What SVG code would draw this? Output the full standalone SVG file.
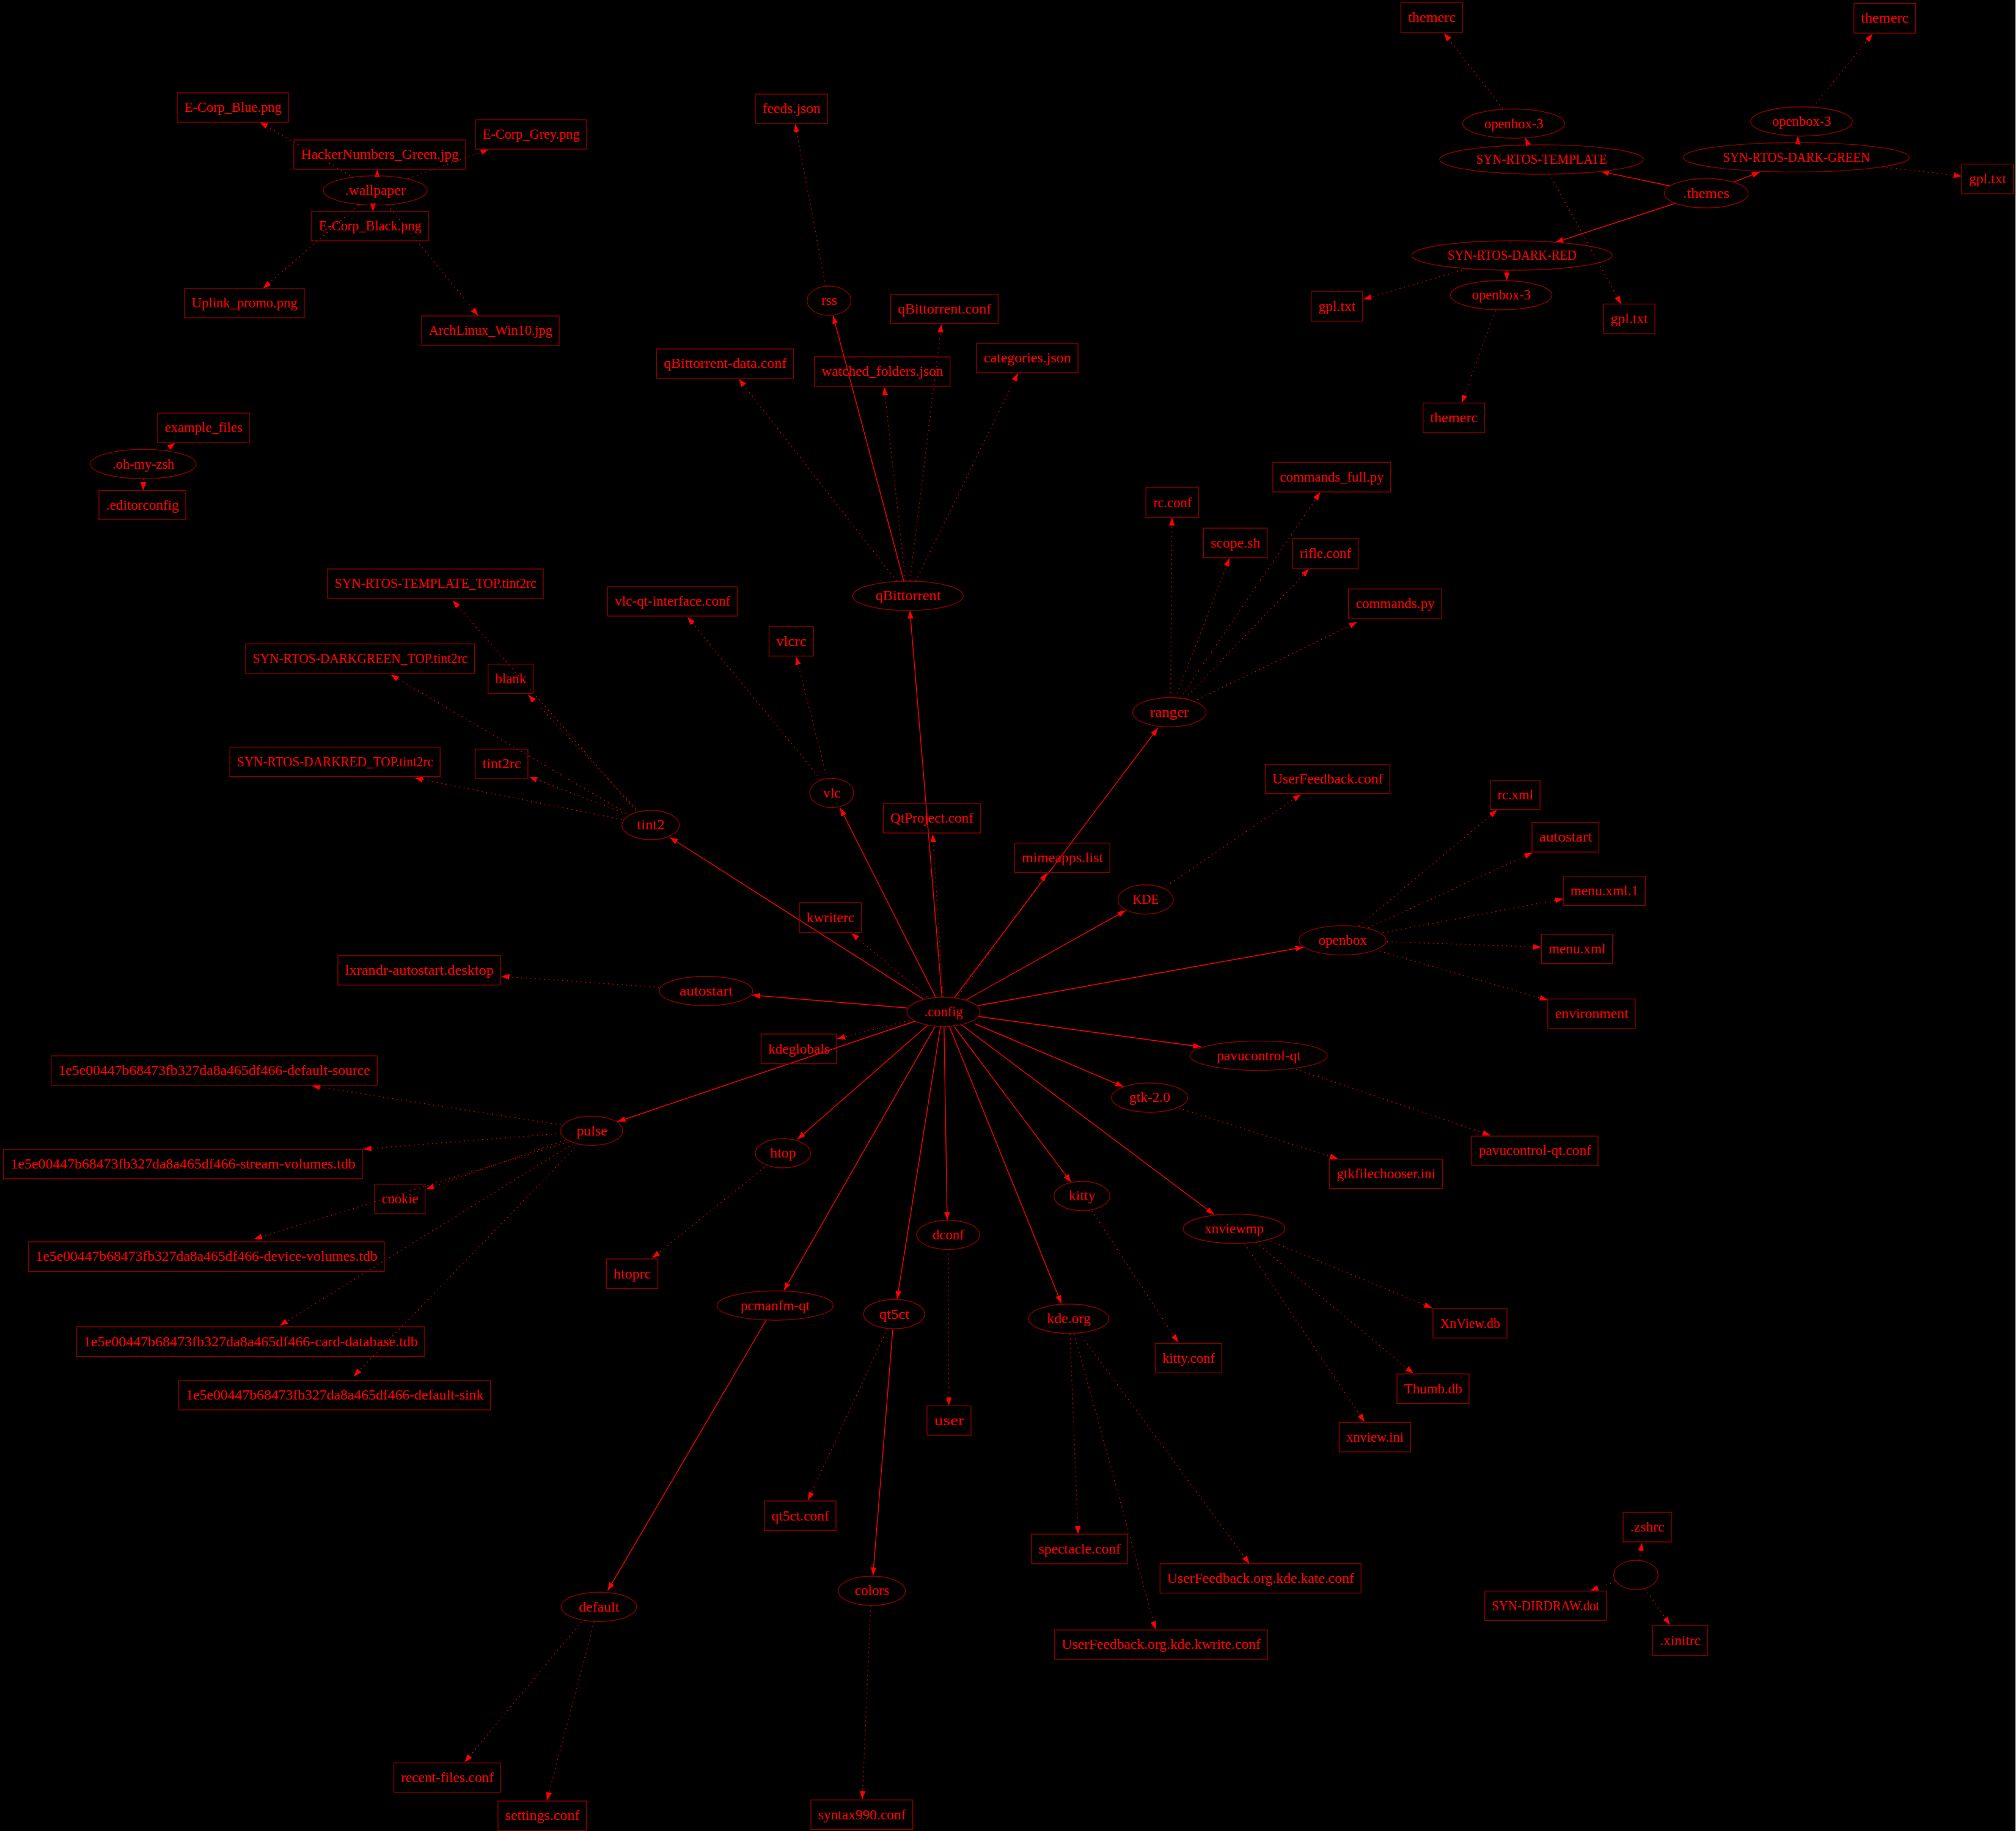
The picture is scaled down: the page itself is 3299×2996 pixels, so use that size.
<svg xmlns="http://www.w3.org/2000/svg" width="3299" height="2996" viewBox="0 0 3299 2996">
<defs>
<style>
.n rect,.n ellipse{fill:none;stroke:#8b0000;stroke-width:1.4}
text{font-family:"Liberation Serif","Times New Roman",serif;font-size:23.5px;fill:#ff0000;text-anchor:middle}
.e path{stroke:#ff0000;stroke-width:1.4;fill:none;marker-end:url(#a)}
.e path.d{stroke-dasharray:1.5,6}
</style>
<marker id="a" markerUnits="userSpaceOnUse" markerWidth="15" markerHeight="11" refX="13.3" refY="4.7" orient="auto"><path d="M0,0 L13.3,4.7 L0,9.4 z" fill="#ff0000"/></marker>
</defs>
<rect x="0" y="0" width="3299" height="2996" fill="#000000"/>
<rect x="3298" y="0" width="1" height="2996" fill="#bfbfbf"/>
<g id="connectors" class="e">
<path class="d" d="M578.8,290.8 L425.1,199.6"/>
<path class="d" d="M617.2,288.5 L617.2,277"/>
<path class="d" d="M668.2,292.1 L799.8,244.3"/>
<path class="d" d="M610.3,335.5 L610.3,346.3"/>
<path class="d" d="M586.7,335.5 L430.4,472"/>
<path class="d" d="M634,335.5 L782.4,516.6"/>
<path class="d" d="M271,736.7 L286.8,724.5"/>
<path class="d" d="M234.5,783.3 L234.5,802.4"/>
<path class="d" d="M1351.2,468.1 L1301.2,202.8"/>
<path d="M1541.6,1632.7 L1489,999"/>
<path d="M1479,951 L1363.3,516.6"/>
<path class="d" d="M1466.9,950.3 L1209.1,620"/>
<path class="d" d="M1481.6,950.3 L1446.9,633.3"/>
<path class="d" d="M1489,950.3 L1540.6,530.7"/>
<path class="d" d="M1498.5,950.3 L1665.8,610.4"/>
<path d="M2732.8,304.2 L2619.7,280.6"/>
<path d="M2837,297.9 L2880.1,281.3"/>
<path d="M2740.7,333 L2545,396.7"/>
<path d="M2501,237.3 L2496,225.8"/>
<path class="d" d="M2535.5,284.5 L2652.8,497.5"/>
<path class="d" d="M2458.7,177.3 L2363,54.2"/>
<path d="M2942,233.4 L2942.2,223.2"/>
<path class="d" d="M3080,273 L3210,288.3"/>
<path class="d" d="M2967,174.8 L3064.3,55.5"/>
<path class="d" d="M2399.8,440 L2230.9,489.8"/>
<path d="M2466,442 L2465.5,459"/>
<path class="d" d="M2447,508.3 L2391.9,659.5"/>
<path class="d" d="M1343.3,1275.5 L1124.9,1009.6"/>
<path class="d" d="M1353.8,1274.3 L1302.7,1074.6"/>
<path class="d" d="M1040.7,1326.6 L740.8,982.2"/>
<path class="d" d="M1022,1329 L639.3,1104"/>
<path class="d" d="M1017.6,1341 L678.7,1273"/>
<path class="d" d="M1025,1331.7 L866,1271"/>
<path class="d" d="M1046,1328.5 L864.5,1137"/>
<path class="d" d="M1078.6,1615.5 L820.3,1597.6"/>
<path class="d" d="M917.6,1840.6 L510.4,1776.9"/>
<path class="d" d="M917.6,1854.6 L594.6,1880.2"/>
<path class="d" d="M925,1865.5 L697.1,1945.9"/>
<path class="d" d="M930.2,1868.7 L415.7,2027.4"/>
<path class="d" d="M938,1871.3 L457.8,2169"/>
<path class="d" d="M946,1872.5 L578.8,2252"/>
<path class="d" d="M1256.4,1905.7 L1067,2058.7"/>
<path class="d" d="M1915.7,1141.6 L1917.8,847"/>
<path class="d" d="M1923.6,1141.6 L2012,913.3"/>
<path class="d" d="M1931.5,1142 L2160.4,805.5"/>
<path class="d" d="M1939.4,1143 L2142,931"/>
<path class="d" d="M1952.5,1148 L2220.9,1017.9"/>
<path class="d" d="M1902.5,1454 L2128.8,1299.8"/>
<path class="d" d="M2223.5,1515.4 L2449.8,1325.3"/>
<path class="d" d="M2239.3,1518 L2507.6,1395.4"/>
<path class="d" d="M2263,1526.2 L2558.1,1470.7"/>
<path class="d" d="M2269.8,1540.8 L2522.4,1549.8"/>
<path class="d" d="M2257.7,1556.2 L2532.9,1636.5"/>
<path class="d" d="M2120.9,1749.4 L2439.2,1857.8"/>
<path class="d" d="M1928.9,1813.2 L2189.3,1896"/>
<path class="d" d="M1786.8,1981 L1927.8,2196.4"/>
<path class="d" d="M2078.8,2030.6 L2343.5,2140.3"/>
<path class="d" d="M2055.1,2033.2 L2313,2247.5"/>
<path class="d" d="M2036.7,2035 L2233,2326.6"/>
<path class="d" d="M1751,2183 L1764.2,2510.2"/>
<path class="d" d="M1757.9,2183 L1891,2666.5"/>
<path class="d" d="M1765.8,2180.5 L2044.6,2558.7"/>
<path d="M1253.8,2160 L994.4,2602.7"/>
<path class="d" d="M1452.2,2174 L1322.2,2454.7"/>
<path d="M1461.1,2174 L1428.5,2577.9"/>
<path class="d" d="M1551.6,2044.6 L1552.7,2299.8"/>
<path class="d" d="M1424.8,2628.2 L1411.1,2944"/>
<path class="d" d="M972.3,2653.7 L895,2945.9"/>
<path class="d" d="M951.3,2653.7 L760.3,2883.4"/>
<path class="d" d="M2682.8,2553 L2687,2524.3"/>
<path class="d" d="M2643.4,2588 L2602.3,2602.7"/>
<path class="d" d="M2691.8,2599.5 L2732.8,2658.8"/>
<path class="d" d="M1543.2,1631.4 L1526.4,1364.8"/>
<path d="M1531,1631.4 L1374.8,1322"/>
<path d="M1510.6,1634.6 L1096,1370"/>
<path class="d" d="M1517,1631.4 L1393.2,1526.8"/>
<path d="M1484.3,1649.3 L1230.7,1628.2"/>
<path class="d" d="M1488,1669.7 L1369.6,1699.7"/>
<path d="M1497.4,1671 L1010.2,1835.5"/>
<path d="M1518.5,1677.3 L1304.8,1864.2"/>
<path d="M1530,1680 L1282.8,2111.6"/>
<path d="M1539,1680 L1468,2125.6"/>
<path d="M1544.8,1680 L1550,1996.3"/>
<path d="M1553.7,1680 L1736.8,2132.7"/>
<path d="M1561.6,1680 L1752.6,1934.4"/>
<path d="M1572.1,1676 L1986.7,1987.3"/>
<path d="M1595,1675 L1838.4,1778.1"/>
<path d="M1601,1663.3 L1965.7,1713"/>
<path d="M1600,1645.5 L2133,1549.8"/>
<path d="M1580,1636.5 L1842,1489.8"/>
<path class="d" d="M1564.2,1634.6 L1713.1,1428.6"/>
<path d="M1561.6,1632.7 L1894.7,1191.3"/>
</g>
<g id="n_wallpaper" class="n"><ellipse cx="614" cy="311.6" rx="85" ry="24"/><text x="614" y="319" textLength="99" lengthAdjust="spacingAndGlyphs">.wallpaper</text></g>
<g id="n_ecorp_blue" class="n"><rect x="290" y="152" width="182" height="48"/><text x="381" y="183.3" textLength="159" lengthAdjust="spacingAndGlyphs">E-Corp_Blue.png</text></g>
<g id="n_hacker" class="n"><rect x="481" y="229" width="281" height="48"/><text x="621.5" y="260.3" textLength="258" lengthAdjust="spacingAndGlyphs">HackerNumbers_Green.jpg</text></g>
<g id="n_ecorp_grey" class="n"><rect x="778" y="196" width="182" height="48"/><text x="869" y="227.3" textLength="159" lengthAdjust="spacingAndGlyphs">E-Corp_Grey.png</text></g>
<g id="n_ecorp_black" class="n"><rect x="510" y="346" width="191" height="48"/><text x="605.5" y="377.3" textLength="168" lengthAdjust="spacingAndGlyphs">E-Corp_Black.png</text></g>
<g id="n_uplink" class="n"><rect x="302" y="472" width="196" height="48"/><text x="400" y="503.3" textLength="173" lengthAdjust="spacingAndGlyphs">Uplink_promo.png</text></g>
<g id="n_archlinux" class="n"><rect x="690" y="517" width="225" height="48"/><text x="802.5" y="548.3" textLength="202" lengthAdjust="spacingAndGlyphs">ArchLinux_Win10.jpg</text></g>
<g id="n_ohmyzsh" class="n"><ellipse cx="234.5" cy="759.3" rx="86.5" ry="24"/><text x="234.5" y="766.6" textLength="101" lengthAdjust="spacingAndGlyphs">.oh-my-zsh</text></g>
<g id="n_example_files" class="n"><rect x="258" y="676" width="150" height="48"/><text x="333" y="707.3" textLength="127" lengthAdjust="spacingAndGlyphs">example_files</text></g>
<g id="n_editorconfig" class="n"><rect x="162" y="802.4" width="142" height="48"/><text x="233" y="833.7" textLength="119" lengthAdjust="spacingAndGlyphs">.editorconfig</text></g>
<g id="n_template_top" class="n"><rect x="536" y="931" width="353" height="48"/><text x="712.5" y="962.3" textLength="330" lengthAdjust="spacingAndGlyphs">SYN-RTOS-TEMPLATE_TOP.tint2rc</text></g>
<g id="n_feeds" class="n"><rect x="1236" y="154" width="118" height="48"/><text x="1295" y="185.3" textLength="95" lengthAdjust="spacingAndGlyphs">feeds.json</text></g>
<g id="n_rss" class="n"><ellipse cx="1356.7" cy="492" rx="36" ry="24"/><text x="1356.7" y="499.3">rss</text></g>
<g id="n_qbconf" class="n"><rect x="1457.4" y="481.5" width="176" height="48"/><text x="1545.4" y="512.8" textLength="153" lengthAdjust="spacingAndGlyphs">qBittorrent.conf</text></g>
<g id="n_qbdata" class="n"><rect x="1074.4" y="571" width="224" height="48"/><text x="1186.4" y="602.3" textLength="201" lengthAdjust="spacingAndGlyphs">qBittorrent-data.conf</text></g>
<g id="n_watched" class="n"><rect x="1332.7" y="584" width="222" height="48"/><text x="1443.7" y="615.3" textLength="199" lengthAdjust="spacingAndGlyphs">watched_folders.json</text></g>
<g id="n_categories" class="n"><rect x="1598" y="562" width="166" height="48"/><text x="1681" y="593.3" textLength="143" lengthAdjust="spacingAndGlyphs">categories.json</text></g>
<g id="n_qbittorrent" class="n"><ellipse cx="1485.8" cy="975" rx="90.5" ry="24"/><text x="1485.8" y="982.3" textLength="106.7" lengthAdjust="spacingAndGlyphs">qBittorrent</text></g>
<g id="n_vlcqt" class="n"><rect x="994.4" y="960" width="212" height="48"/><text x="1100.4" y="991.3" textLength="189" lengthAdjust="spacingAndGlyphs">vlc-qt-interface.conf</text></g>
<g id="n_themerc1" class="n"><rect x="2292.4" y="4.6" width="101" height="48.4"/><text x="2342.9" y="36.1" textLength="78" lengthAdjust="spacingAndGlyphs">themerc</text></g>
<g id="n_openbox3a" class="n"><ellipse cx="2477" cy="202.2" rx="83.3" ry="24"/><text x="2477" y="209.5" textLength="96.4" lengthAdjust="spacingAndGlyphs">openbox-3</text></g>
<g id="n_template" class="n"><ellipse cx="2522.5" cy="261" rx="166.5" ry="24"/><text x="2522.5" y="268.3" textLength="214.2" lengthAdjust="spacingAndGlyphs">SYN-RTOS-TEMPLATE</text></g>
<g id="n_darkred" class="n"><ellipse cx="2474.2" cy="418" rx="164" ry="24"/><text x="2474.2" y="425.3" textLength="210.7" lengthAdjust="spacingAndGlyphs">SYN-RTOS-DARK-RED</text></g>
<g id="n_openbox3b" class="n"><ellipse cx="2456.6" cy="483" rx="83" ry="24"/><text x="2456.6" y="490.3" textLength="96.4" lengthAdjust="spacingAndGlyphs">openbox-3</text></g>
<g id="n_gpl1" class="n"><rect x="2145.6" y="477" width="84.2" height="48.5"/><text x="2187.7" y="508.5" textLength="61" lengthAdjust="spacingAndGlyphs">gpl.txt</text></g>
<g id="n_themerc2" class="n"><rect x="2328.7" y="659.5" width="100.5" height="48.5"/><text x="2379" y="691" textLength="78" lengthAdjust="spacingAndGlyphs">themerc</text></g>
<g id="n_themerc3" class="n"><rect x="3033.8" y="5.7" width="100.5" height="48.5"/><text x="3084" y="37.2" textLength="78" lengthAdjust="spacingAndGlyphs">themerc</text></g>
<g id="n_openbox3c" class="n"><ellipse cx="2948" cy="198.7" rx="83.1" ry="24"/><text x="2948" y="206" textLength="96.4" lengthAdjust="spacingAndGlyphs">openbox-3</text></g>
<g id="n_darkgreen" class="n"><ellipse cx="2939.4" cy="257.4" rx="185" ry="24"/><text x="2939.4" y="264.7" textLength="240.4" lengthAdjust="spacingAndGlyphs">SYN-RTOS-DARK-GREEN</text></g>
<g id="n_gpl3" class="n"><rect x="3210" y="268.5" width="84.7" height="48.5"/><text x="3252.3" y="300" textLength="61" lengthAdjust="spacingAndGlyphs">gpl.txt</text></g>
<g id="n_themes" class="n"><ellipse cx="2792" cy="316.3" rx="68.7" ry="24"/><text x="2792" y="323.6" textLength="75.9" lengthAdjust="spacingAndGlyphs">.themes</text></g>
<g id="n_gpl2" class="n"><rect x="2623.9" y="497.5" width="84.2" height="48.5"/><text x="2666" y="529" textLength="61" lengthAdjust="spacingAndGlyphs">gpl.txt</text></g>
<g id="n_commands_full" class="n"><rect x="2083" y="756.4" width="192.6" height="48.5"/><text x="2179.3" y="787.9" textLength="170" lengthAdjust="spacingAndGlyphs">commands_full.py</text></g>
<g id="n_rcconf" class="n"><rect x="1875.2" y="798" width="86.3" height="48.4"/><text x="1918.4" y="829.5" textLength="63" lengthAdjust="spacingAndGlyphs">rc.conf</text></g>
<g id="n_scope" class="n"><rect x="1969.4" y="864.2" width="104.2" height="48.5"/><text x="2021.5" y="895.7" textLength="81" lengthAdjust="spacingAndGlyphs">scope.sh</text></g>
<g id="n_rifle" class="n"><rect x="2115.1" y="881.4" width="107.4" height="48.5"/><text x="2168.8" y="912.9" textLength="84" lengthAdjust="spacingAndGlyphs">rifle.conf</text></g>
<g id="n_commands" class="n"><rect x="2206.7" y="963.7" width="152.6" height="48"/><text x="2283" y="995" textLength="129" lengthAdjust="spacingAndGlyphs">commands.py</text></g>
<g id="n_darkgreen_top" class="n"><rect x="402" y="1053.6" width="374.6" height="48"/><text x="589.3" y="1084.9" textLength="351.6" lengthAdjust="spacingAndGlyphs">SYN-RTOS-DARKGREEN_TOP.tint2rc</text></g>
<g id="n_blank" class="n"><rect x="798.7" y="1086.7" width="73.7" height="48"/><text x="835.5" y="1118" textLength="50.7" lengthAdjust="spacingAndGlyphs">blank</text></g>
<g id="n_tint2rc" class="n"><rect x="777.6" y="1225.8" width="86.3" height="48.5"/><text x="820.8" y="1257.3" textLength="63.3" lengthAdjust="spacingAndGlyphs">tint2rc</text></g>
<g id="n_darkred_top" class="n"><rect x="376.2" y="1222.6" width="344" height="48"/><text x="548.2" y="1253.9" textLength="321" lengthAdjust="spacingAndGlyphs">SYN-RTOS-DARKRED_TOP.tint2rc</text></g>
<g id="n_lxrandr" class="n"><rect x="553" y="1563.8" width="266.2" height="48"/><text x="686.1" y="1595.1" textLength="243" lengthAdjust="spacingAndGlyphs">lxrandr-autostart.desktop</text></g>
<g id="n_default_source" class="n"><rect x="83.7" y="1727.7" width="533.5" height="48"/><text x="350.4" y="1759" textLength="510.5" lengthAdjust="spacingAndGlyphs">1e5e00447b68473fb327da8a465df466-default-source</text></g>
<g id="n_stream_volumes" class="n"><rect x="5.8" y="1880.8" width="587.2" height="48"/><text x="299.4" y="1912.1" textLength="564.2" lengthAdjust="spacingAndGlyphs">1e5e00447b68473fb327da8a465df466-stream-volumes.tdb</text></g>
<g id="n_cookie" class="n"><rect x="613" y="1937.6" width="82.6" height="48.4"/><text x="654.3" y="1969.1" textLength="59.6" lengthAdjust="spacingAndGlyphs">cookie</text></g>
<g id="n_device_volumes" class="n"><rect x="46.8" y="2031.9" width="582" height="48.4"/><text x="337.8" y="2063.4" textLength="559" lengthAdjust="spacingAndGlyphs">1e5e00447b68473fb327da8a465df466-device-volumes.tdb</text></g>
<g id="n_card_database" class="n"><rect x="125.2" y="2171" width="569.8" height="48.4"/><text x="410.1" y="2202.5" textLength="547" lengthAdjust="spacingAndGlyphs">1e5e00447b68473fb327da8a465df466-card-database.tdb</text></g>
<g id="n_default_sink" class="n"><rect x="292.5" y="2259" width="509.9" height="48"/><text x="547.5" y="2290.3" textLength="487" lengthAdjust="spacingAndGlyphs">1e5e00447b68473fb327da8a465df466-default-sink</text></g>
<g id="n_recent_files" class="n"><rect x="644.5" y="2884.6" width="174.7" height="48"/><text x="731.8" y="2915.9" textLength="151.7" lengthAdjust="spacingAndGlyphs">recent-files.conf</text></g>
<g id="n_settings" class="n"><rect x="815" y="2947" width="144.7" height="48"/><text x="887.3" y="2978.3" textLength="122" lengthAdjust="spacingAndGlyphs">settings.conf</text></g>
<g id="n_vlcrc" class="n"><rect x="1258.5" y="1025.5" width="72.7" height="48"/><text x="1294.8" y="1056.8" textLength="49.7" lengthAdjust="spacingAndGlyphs">vlcrc</text></g>
<g id="n_vlc" class="n"><ellipse cx="1361" cy="1297.5" rx="36" ry="24"/><text x="1361" y="1304.8">vlc</text></g>
<g id="n_tint2" class="n"><ellipse cx="1064.7" cy="1350" rx="47" ry="24"/><text x="1064.7" y="1357.3" textLength="45.2" lengthAdjust="spacingAndGlyphs">tint2</text></g>
<g id="n_qtproject" class="n"><rect x="1445.3" y="1315" width="158.9" height="48"/><text x="1524.7" y="1346.3" textLength="136" lengthAdjust="spacingAndGlyphs">QtProject.conf</text></g>
<g id="n_kwriterc" class="n"><rect x="1308" y="1477" width="101.6" height="48.5"/><text x="1358.8" y="1508.5" textLength="78.6" lengthAdjust="spacingAndGlyphs">kwriterc</text></g>
<g id="n_autostart" class="n"><ellipse cx="1155.2" cy="1621.5" rx="76.5" ry="24"/><text x="1155.2" y="1628.8" textLength="86.9" lengthAdjust="spacingAndGlyphs">autostart</text></g>
<g id="n_config" class="n"><ellipse cx="1544" cy="1655.7" rx="59.7" ry="24"/><text x="1544" y="1663" textLength="63.1" lengthAdjust="spacingAndGlyphs">.config</text></g>
<g id="n_kdeglobals" class="n"><rect x="1245.4" y="1692" width="123.6" height="48.5"/><text x="1307.2" y="1723.5" textLength="100.6" lengthAdjust="spacingAndGlyphs">kdeglobals</text></g>
<g id="n_pulse" class="n"><ellipse cx="968.4" cy="1850.2" rx="50.8" ry="24"/><text x="968.4" y="1857.5" textLength="50.5" lengthAdjust="spacingAndGlyphs">pulse</text></g>
<g id="n_htop" class="n"><ellipse cx="1281.2" cy="1887" rx="45.2" ry="24"/><text x="1281.2" y="1894.3" textLength="42.3" lengthAdjust="spacingAndGlyphs">htop</text></g>
<g id="n_ranger" class="n"><ellipse cx="1913.6" cy="1165.5" rx="60" ry="24"/><text x="1913.6" y="1172.8" textLength="63.6" lengthAdjust="spacingAndGlyphs">ranger</text></g>
<g id="n_userfeedback" class="n"><rect x="2070.4" y="1250.7" width="204.1" height="48"/><text x="2172.5" y="1282" textLength="181" lengthAdjust="spacingAndGlyphs">UserFeedback.conf</text></g>
<g id="n_rcxml" class="n"><rect x="2438.7" y="1276.8" width="81.5" height="48"/><text x="2479.5" y="1308.1" textLength="58.5" lengthAdjust="spacingAndGlyphs">rc.xml</text></g>
<g id="n_mimeapps" class="n"><rect x="1660.5" y="1379.5" width="155.8" height="48"/><text x="1738.4" y="1410.8" textLength="132.8" lengthAdjust="spacingAndGlyphs">mimeapps.list</text></g>
<g id="n_kde" class="n"><ellipse cx="1874.7" cy="1471.7" rx="45.3" ry="24"/><text x="1874.7" y="1479" textLength="42.7" lengthAdjust="spacingAndGlyphs">KDE</text></g>
<g id="n_openbox" class="n"><ellipse cx="2196.9" cy="1538.6" rx="71.3" ry="24"/><text x="2196.9" y="1545.9" textLength="79.5" lengthAdjust="spacingAndGlyphs">openbox</text></g>
<g id="n_pavucontrol" class="n"><ellipse cx="2059.7" cy="1727.4" rx="112.3" ry="24"/><text x="2059.7" y="1734.7" textLength="137.5" lengthAdjust="spacingAndGlyphs">pavucontrol-qt</text></g>
<g id="n_gtk2" class="n"><ellipse cx="1881.2" cy="1796" rx="62.4" ry="24"/><text x="1881.2" y="1803.3" textLength="66.9" lengthAdjust="spacingAndGlyphs">gtk-2.0</text></g>
<g id="n_gtkfilechooser" class="n"><rect x="2175.6" y="1896.7" width="184.7" height="48"/><text x="2268" y="1928" textLength="161.7" lengthAdjust="spacingAndGlyphs">gtkfilechooser.ini</text></g>
<g id="n_pavuconf" class="n"><rect x="2408.2" y="1859" width="206.8" height="48"/><text x="2511.6" y="1890.3" textLength="183.8" lengthAdjust="spacingAndGlyphs">pavucontrol-qt.conf</text></g>
<g id="n_kitty" class="n"><ellipse cx="1770.5" cy="1957" rx="45.8" ry="24"/><text x="1770.5" y="1964.3" textLength="43.5" lengthAdjust="spacingAndGlyphs">kitty</text></g>
<g id="n_xnviewmp" class="n"><ellipse cx="2019.4" cy="2010.5" rx="83.2" ry="24"/><text x="2019.4" y="2017.8" textLength="96.4" lengthAdjust="spacingAndGlyphs">xnviewmp</text></g>
<g id="n_ob_autostart" class="n"><rect x="2507.1" y="1345.7" width="109.4" height="48.5"/><text x="2561.8" y="1377.2" textLength="86.4" lengthAdjust="spacingAndGlyphs">autostart</text></g>
<g id="n_menuxml1" class="n"><rect x="2558.1" y="1433.7" width="134.2" height="48"/><text x="2625.2" y="1465" textLength="111.2" lengthAdjust="spacingAndGlyphs">menu.xml.1</text></g>
<g id="n_menuxml" class="n"><rect x="2522.4" y="1528.7" width="116.3" height="48"/><text x="2580.5" y="1560" textLength="93.3" lengthAdjust="spacingAndGlyphs">menu.xml</text></g>
<g id="n_environment" class="n"><rect x="2532.9" y="1634.6" width="143.1" height="48.5"/><text x="2604.5" y="1666.1" textLength="120" lengthAdjust="spacingAndGlyphs">environment</text></g>
<g id="n_htoprc" class="n"><rect x="992.3" y="2060" width="84.2" height="48.4"/><text x="1034.4" y="2091.5" textLength="61.2" lengthAdjust="spacingAndGlyphs">htoprc</text></g>
<g id="n_pcmanfm" class="n"><ellipse cx="1268.3" cy="2136.2" rx="95" ry="24"/><text x="1268.3" y="2143.5" textLength="113.1" lengthAdjust="spacingAndGlyphs">pcmanfm-qt</text></g>
<g id="n_dconf" class="n"><ellipse cx="1551.6" cy="2020.5" rx="51.6" ry="24"/><text x="1551.6" y="2027.8" textLength="51.7" lengthAdjust="spacingAndGlyphs">dconf</text></g>
<g id="n_qt5ct" class="n"><ellipse cx="1463.2" cy="2150.2" rx="50" ry="24"/><text x="1463.2" y="2157.5" textLength="49.4" lengthAdjust="spacingAndGlyphs">qt5ct</text></g>
<g id="n_user" class="n"><rect x="1516.9" y="2300.4" width="72.1" height="48"/><text x="1553" y="2331.7" textLength="49" lengthAdjust="spacingAndGlyphs">user</text></g>
<g id="n_qt5ctconf" class="n"><rect x="1250.7" y="2456" width="117.3" height="48.5"/><text x="1309.4" y="2487.5" textLength="94.3" lengthAdjust="spacingAndGlyphs">qt5ct.conf</text></g>
<g id="n_colors" class="n"><ellipse cx="1426.7" cy="2603" rx="55" ry="24"/><text x="1426.7" y="2610.3" textLength="56.5" lengthAdjust="spacingAndGlyphs">colors</text></g>
<g id="n_default" class="n"><ellipse cx="980" cy="2629.2" rx="61.8" ry="24"/><text x="980" y="2636.5" textLength="66.1" lengthAdjust="spacingAndGlyphs">default</text></g>
<g id="n_syntax990" class="n"><rect x="1327" y="2945.2" width="166.7" height="48.5"/><text x="1410.4" y="2976.7" textLength="143.7" lengthAdjust="spacingAndGlyphs">syntax990.conf</text></g>
<g id="n_kdeorg" class="n"><ellipse cx="1748.9" cy="2157.8" rx="65.8" ry="24"/><text x="1748.9" y="2165.1" textLength="71.7" lengthAdjust="spacingAndGlyphs">kde.org</text></g>
<g id="n_kittyconf" class="n"><rect x="1890.4" y="2198.4" width="109" height="48"/><text x="1944.9" y="2229.7" textLength="86" lengthAdjust="spacingAndGlyphs">kitty.conf</text></g>
<g id="n_xnviewdb" class="n"><rect x="2345" y="2141" width="121" height="48.4"/><text x="2405.5" y="2172.5" textLength="98" lengthAdjust="spacingAndGlyphs">XnView.db</text></g>
<g id="n_thumbdb" class="n"><rect x="2286.1" y="2248.1" width="117.9" height="48.5"/><text x="2345" y="2279.6" textLength="94.9" lengthAdjust="spacingAndGlyphs">Thumb.db</text></g>
<g id="n_xnviewini" class="n"><rect x="2191.4" y="2327.2" width="116.8" height="48.5"/><text x="2249.8" y="2358.7" textLength="93.8" lengthAdjust="spacingAndGlyphs">xnview.ini</text></g>
<g id="n_spectacle" class="n"><rect x="1687.9" y="2510.2" width="157.3" height="48.5"/><text x="1766.5" y="2541.7" textLength="134.3" lengthAdjust="spacingAndGlyphs">spectacle.conf</text></g>
<g id="n_kate" class="n"><rect x="1898.3" y="2558.7" width="328.9" height="48"/><text x="2062.7" y="2590" textLength="306" lengthAdjust="spacingAndGlyphs">UserFeedback.org.kde.kate.conf</text></g>
<g id="n_kwrite" class="n"><rect x="1725.8" y="2667.1" width="348.2" height="48"/><text x="1899.9" y="2698.4" textLength="325.3" lengthAdjust="spacingAndGlyphs">UserFeedback.org.kde.kwrite.conf</text></g>
<g id="n_dirdraw" class="n"><rect x="2429.8" y="2603.4" width="198.8" height="48"/><text x="2529.2" y="2634.7" textLength="175.8" lengthAdjust="spacingAndGlyphs">SYN-DIRDRAW.dot</text></g>
<g id="n_zshrc" class="n"><rect x="2656" y="2474.5" width="79" height="48.5"/><text x="2695.5" y="2506" textLength="56" lengthAdjust="spacingAndGlyphs">.zshrc</text></g>
<g id="n_root" class="n"><ellipse cx="2677" cy="2577" rx="36.3" ry="24"/></g>
<g id="n_xinitrc" class="n"><rect x="2704.4" y="2660" width="90" height="48.6"/><text x="2749.4" y="2691.5" textLength="67" lengthAdjust="spacingAndGlyphs">.xinitrc</text></g>
</svg>
